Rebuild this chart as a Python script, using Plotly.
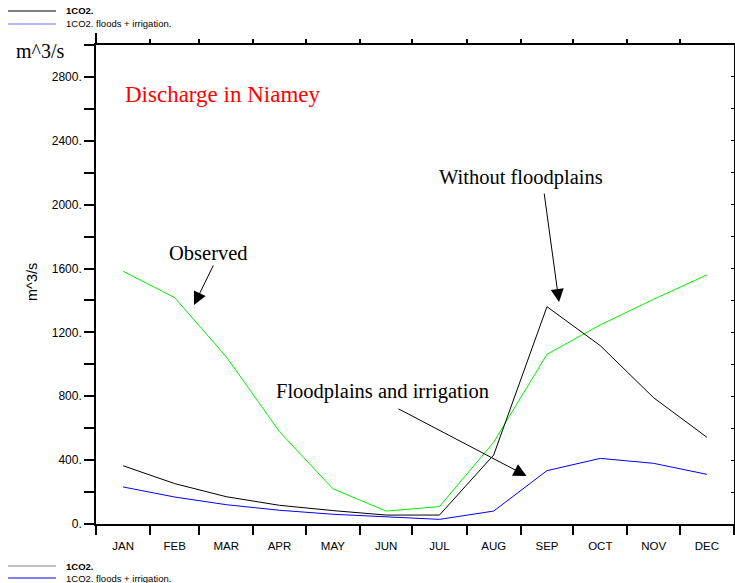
import numpy as np
import plotly.graph_objects as go

# Monthly mean discharge at Niamey (m^3/s)
months = ["JAN", "FEB", "MAR", "APR", "MAY", "JUN", "JUL", "AUG", "SEP", "OCT", "NOV", "DEC"]
month_days = [31, 28, 31, 30, 31, 30, 31, 31, 30, 31, 30, 31]
observed = [1583, 1418, 1048, 578, 221, 81, 109, 512, 1063, 1247, 1407, 1560]
without_floodplains = [365, 253, 171, 117, 84, 56, 56, 432, 1361, 1117, 791, 543]
floods_irrigation = [232, 169, 121, 86, 61, 44, 29, 81, 334, 411, 380, 311]

y_ticks = list(range(0, 3001, 200))
y_ticktext = [f"{v}." if (v % 400 == 0 and v <= 2800) else "" for v in y_ticks]

# month boundaries and mid-month positions on a day-of-year axis
bounds = np.concatenate([[0], np.cumsum(month_days)])
centers = bounds[:-1] + np.array(month_days) / 2.0

W, H = 735, 583
L, R, T, B = 96, 1, 45, 59
PW, PH = W - L - R, H - T - B

SERIF = "Liberation Serif, Times New Roman, serif"
SANS = "Liberation Sans, Helvetica, Arial, sans-serif"


def px(xp):
    return (xp - L) / PW


def py(yp):
    return (H - B - yp) / PH


fig = go.Figure()
fig.add_trace(go.Scatter(x=centers, y=observed, mode="lines",
                         line=dict(color="#00ee00", width=1), name="Observed"))
fig.add_trace(go.Scatter(x=centers, y=without_floodplains, mode="lines",
                         line=dict(color="black", width=1), name="1CO2."))
fig.add_trace(go.Scatter(x=centers, y=floods_irrigation, mode="lines",
                         line=dict(color="#0000ff", width=1),
                         name="1CO2. floods + irrigation."))
# carrier trace for the top/right frame axes
fig.add_trace(go.Scatter(x=[None], y=[None], xaxis="x2", yaxis="y2",
                         showlegend=False, hoverinfo="skip"))

annotations = []


def text(x, y, s, size, color="black", family=SERIF, xref="x", yref="y",
         xanchor="center", **kw):
    annotations.append(dict(x=x, y=y, xref=xref, yref=yref, text=s, showarrow=False,
                            xanchor=xanchor, yanchor="middle",
                            font=dict(family=family, size=size, color=color), **kw))


def arrow(x0, y0, x1, y1):
    annotations.append(dict(x=x1, y=y1, ax=x0, ay=y0, xref="x", yref="y",
                            axref="x", ayref="y", text="", showarrow=True,
                            arrowhead=2, arrowsize=2.6, arrowwidth=1,
                            arrowcolor="black", standoff=0, startstandoff=0))


text(72.4, 2688, "Discharge in Niamey", 23, color="#ff0000")
text(64.4, 1697, "Observed", 20.5)
text(243.1, 2173, "Without floodplains", 20.5)
text(163.9, 827, "Floodplains and irrigation", 20.5)
text(px(39.5), py(51), "m^3/s", 20, xref="paper", yref="paper")
text(px(32), py(282), "m^3/s", 14.5, family=SANS, xref="paper", yref="paper", textangle=-90)

arrow(67.5, 1628, 56.1, 1372)
arrow(256.3, 2079, 264.9, 1390)
arrow(172.2, 726, 246.3, 301)

# line-sample key, top and bottom of the page
shapes = []
keys = [(11, "black", "<b>1CO2.</b>"), (24, "#6f6fff", "1CO2. floods + irrigation."),
        (566, "#888888", "<b>1CO2.</b>"), (578, "#0000ff", "1CO2. floods + irrigation.")]
for yk, col, label in keys:
    shapes.append(dict(type="line", xref="paper", yref="paper", x0=px(8), x1=px(56),
                       y0=py(yk), y1=py(yk), line=dict(color=col, width=1.2)))
    text(px(64), py(yk), label, 9.5, family=SANS, xref="paper", yref="paper",
         xanchor="left")

fig.update_layout(
    width=W, height=H,
    margin=dict(l=L, r=R, t=T, b=B, pad=0),
    paper_bgcolor="white", plot_bgcolor="white",
    showlegend=False, hovermode=False,
    annotations=annotations, shapes=shapes,
    xaxis=dict(range=[0, 365], tickmode="array", tickvals=centers, ticktext=months,
               ticks="", showgrid=False, zeroline=False, showline=True,
               linecolor="black", linewidth=1.6, ticklabelstandoff=10,
               tickfont=dict(family=SANS, size=11.5, color="black"),
               minor=dict(tickmode="array", tickvals=bounds, ticks="outside",
                          ticklen=9, tickwidth=1.5, tickcolor="black", showgrid=False)),
    yaxis=dict(range=[0, 3000], tickmode="array", tickvals=y_ticks, ticktext=y_ticktext,
               ticks="outside", ticklen=10, tickwidth=1.5, tickcolor="black",
               showgrid=False, zeroline=False, showline=True, linecolor="black",
               linewidth=1.6, tickfont=dict(family=SANS, size=12, color="black")),
    xaxis2=dict(overlaying="x", side="top", range=[0, 365], tickmode="array",
                tickvals=[0], ticks="outside", ticklen=10, tickwidth=1.5,
                tickcolor="black", showticklabels=False, showgrid=False,
                zeroline=False, showline=True, linecolor="black", linewidth=1.6,
                minor=dict(tickmode="array", tickvals=bounds[1:-1], ticks="outside",
                           ticklen=4, tickwidth=1.5, tickcolor="black", showgrid=False)),
    yaxis2=dict(overlaying="y", side="right", range=[0, 3000], tickmode="array",
                tickvals=y_ticks, ticks="inside", ticklen=3, tickwidth=1,
                tickcolor="black", showticklabels=False, showgrid=False,
                zeroline=False, showline=True, linecolor="black", linewidth=1.6),
)

fig.write_html("out.html")
